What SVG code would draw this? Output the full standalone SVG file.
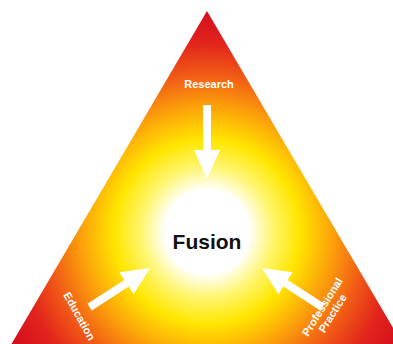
<svg xmlns="http://www.w3.org/2000/svg" width="393" height="344" viewBox="0 0 393 344">
<defs>
<radialGradient id="g" gradientUnits="userSpaceOnUse" cx="207" cy="232" r="220">
<stop offset="0" stop-color="#ffffff"/>
<stop offset="0.19" stop-color="#ffffff"/>
<stop offset="0.3" stop-color="#fff56e"/>
<stop offset="0.42" stop-color="#ffe600"/>
<stop offset="0.57" stop-color="#fca20a"/>
<stop offset="0.72" stop-color="#f15a16"/>
<stop offset="0.86" stop-color="#e2241c"/>
<stop offset="1" stop-color="#d40f1e"/>
</radialGradient>
<style>
.lbl{font-family:"Liberation Sans",Arial,sans-serif;font-weight:bold;fill:#ffffff;font-size:11px;text-anchor:middle}
.arr{fill:#ffffff}
</style>
</defs>
<g id="triangle">
<polygon points="207,11 -5,372 419,372" fill="url(#g)"/>
</g>
<g id="fusion">
<text x="207" y="249" font-family="Liberation Sans,Arial,sans-serif" font-weight="bold" font-size="21" fill="#111" text-anchor="middle">Fusion</text>
</g>
<g id="research">
<text class="lbl" x="209" y="88">Research</text>
</g>
<g id="education">
<text class="lbl" transform="translate(76,318) rotate(61)">Education</text>
</g>
<g id="professional-practice">
<text class="lbl" transform="translate(329,311) rotate(-58)"><tspan x="0" y="-4">Professional</tspan><tspan x="0" y="8">Practice</tspan></text>
</g>
<g id="connectors">
<polygon class="arr" points="203,105 211,105 211,150 220,150 207,179 194,150 203,150"/>
<g transform="translate(150,268) rotate(147)"><polygon class="arr" points="0,0 28,-13 28,-4 72,-4 72,4 28,4 28,13"/></g>
<g transform="translate(262,268) rotate(33)"><polygon class="arr" points="0,0 28,-13 28,-4 72,-4 72,4 28,4 28,13"/></g>
</g>
</svg>
